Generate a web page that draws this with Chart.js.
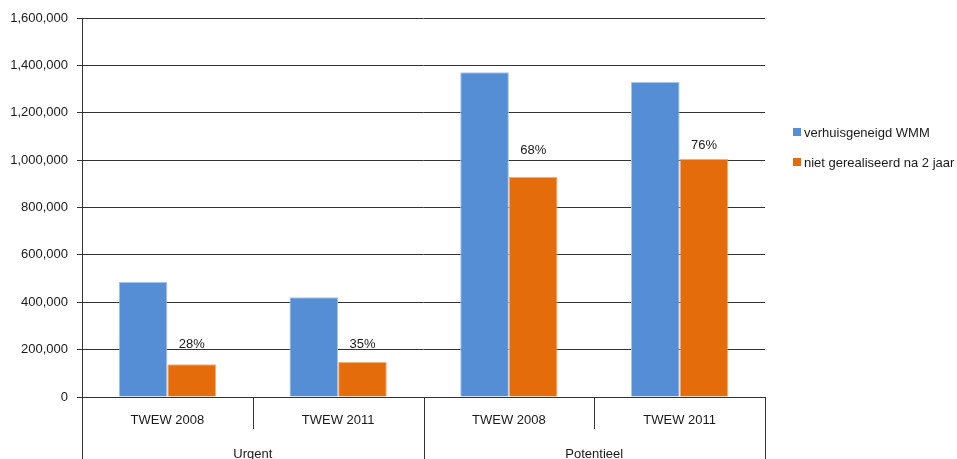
<!DOCTYPE html>
<html>
<head>
<meta charset="utf-8">
<script src="https://cdn.jsdelivr.net/npm/chart.js@4/dist/chart.umd.min.js"></script>
<style>
  html, body { margin: 0; padding: 0; background: #fff; }
  #wrap { width: 957px; height: 459px; position: relative; }
</style>
</head>
<body>
<div id="wrap"><canvas id="c"></canvas></div>
<script>
// Groups and categories of the two-level x axis
const groups = ['Urgent', 'Potentieel'];
const categories = ['TWEW 2008', 'TWEW 2011', 'TWEW 2008', 'TWEW 2011'];
const categoryGroup = [0, 0, 1, 1];

// Series
const seriesNames = ['verhuisgeneigd WMM', 'niet gerealiseerd na 2 jaar'];
const verhuisgeneigd = [487000, 421000, 1371000, 1330000];
const nietGerealiseerd = [138000, 148000, 930000, 1006000];

// Value axis ticks
const yTicks = [0, 200000, 400000, 600000, 800000, 1000000, 1200000, 1400000, 1600000];

const FONT = "'Liberation Sans', Arial, sans-serif";
const TEXT = '#1a1a1a';
const LINE = '#333333';
const BLUE = '#558ED5';
const ORANGE = '#E46C0A';

// Share of the first series that is not realised, shown above the orange bars
const shareLabels = nietGerealiseerd.map((v, i) => Math.round(v / verhuisgeneigd[i] * 100) + '%');

const extras = {
  id: 'extras',
  afterDraw(chart, args, opts) {
    const ctx = chart.ctx;
    const area = chart.chartArea;
    const xs = chart.scales.x;
    const bottom = chart.height;
    ctx.save();

    // axis lines
    ctx.strokeStyle = LINE;
    ctx.lineWidth = 1;
    ctx.beginPath();
    ctx.moveTo(Math.round(area.left) + 0.5, area.top);
    ctx.lineTo(Math.round(area.left) + 0.5, bottom);
    ctx.moveTo(area.left - 5, Math.round(area.bottom) + 0.5);
    ctx.lineTo(area.right, Math.round(area.bottom) + 0.5);
    ctx.stroke();

    // category boundaries
    const n = categories.length;
    const centers = categories.map((c, i) => xs.getPixelForValue(i));
    const bounds = [area.left];
    for (let i = 0; i < n - 1; i++) bounds.push((centers[i] + centers[i + 1]) / 2);
    bounds.push(area.right);
    ctx.beginPath();
    for (let i = 1; i <= n; i++) {
      const groupEdge = i === n || categoryGroup[i] !== categoryGroup[i - 1];
      const x = Math.round(bounds[i]) + 0.5;
      ctx.moveTo(x, area.bottom);
      ctx.lineTo(x, groupEdge ? bottom : area.bottom + 32);
    }
    ctx.stroke();

    // category and group labels
    ctx.fillStyle = TEXT;
    ctx.font = '13px ' + FONT;
    ctx.textAlign = 'center';
    ctx.textBaseline = 'middle';
    centers.forEach((x, i) => ctx.fillText(categories[i], x, area.bottom + 23));
    groups.forEach((g, gi) => {
      const idx = categoryGroup.map((v, i) => v === gi ? i : -1).filter(i => i >= 0);
      const x0 = bounds[idx[0]];
      const x1 = bounds[idx[idx.length - 1] + 1];
      ctx.fillText(g, (x0 + x1) / 2, area.bottom + 57);
    });

    // share labels above the second series
    const meta = chart.getDatasetMeta(1);
    meta.data.forEach((bar, i) => {
      ctx.fillText(shareLabels[i], bar.x, bar.y - opts.labelOffsets[i]);
    });

    // legend
    const colors = [BLUE, ORANGE];
    const legendY = [132, 162];
    ctx.textAlign = 'left';
    seriesNames.forEach((name, i) => {
      ctx.fillStyle = colors[i];
      ctx.fillRect(793, legendY[i] - 4, 8, 8);
      ctx.fillStyle = TEXT;
      ctx.fillText(name, 804, legendY[i] + 1);
    });

    ctx.restore();
  }
};

new Chart(document.getElementById('c'), {
  type: 'bar',
  data: {
    labels: categories,
    datasets: [
      {
        label: seriesNames[0],
        data: verhuisgeneigd,
        backgroundColor: BLUE,
        borderColor: '#a9c6ec',
        borderWidth: 1,
        categoryPercentage: 0.57,
        barPercentage: 1.0
      },
      {
        label: seriesNames[1],
        data: nietGerealiseerd,
        backgroundColor: ORANGE,
        borderColor: '#f3b078',
        borderWidth: 1,
        categoryPercentage: 0.57,
        barPercentage: 1.0
      }
    ]
  },
  options: {
    responsive: true,
    maintainAspectRatio: false,
    animation: false,
    layout: { padding: { top: 18, right: 192, bottom: 0, left: 0 } },
    plugins: {
      legend: { display: false },
      tooltip: { enabled: false },
      extras: { labelOffsets: [20, 18, 26, 13] }
    },
    scales: {
      x: {
        type: 'category',
        grid: { display: false },
        border: { display: false },
        ticks: { display: false },
        afterFit: s => { s.height = 62; }
      },
      y: {
        min: 0,
        max: 1600000,
        afterBuildTicks: s => { s.ticks = yTicks.map(v => ({ value: v })); },
        afterFit: s => { s.width = 82; },
        border: { display: false },
        grid: { color: LINE, lineWidth: 1, tickLength: 5, drawTicks: true },
        ticks: {
          padding: 9,
          color: TEXT,
          font: { family: FONT, size: 13 },
          callback: v => v.toLocaleString('en-US')
        }
      }
    }
  },
  plugins: [extras]
});
</script>
</body>
</html>
